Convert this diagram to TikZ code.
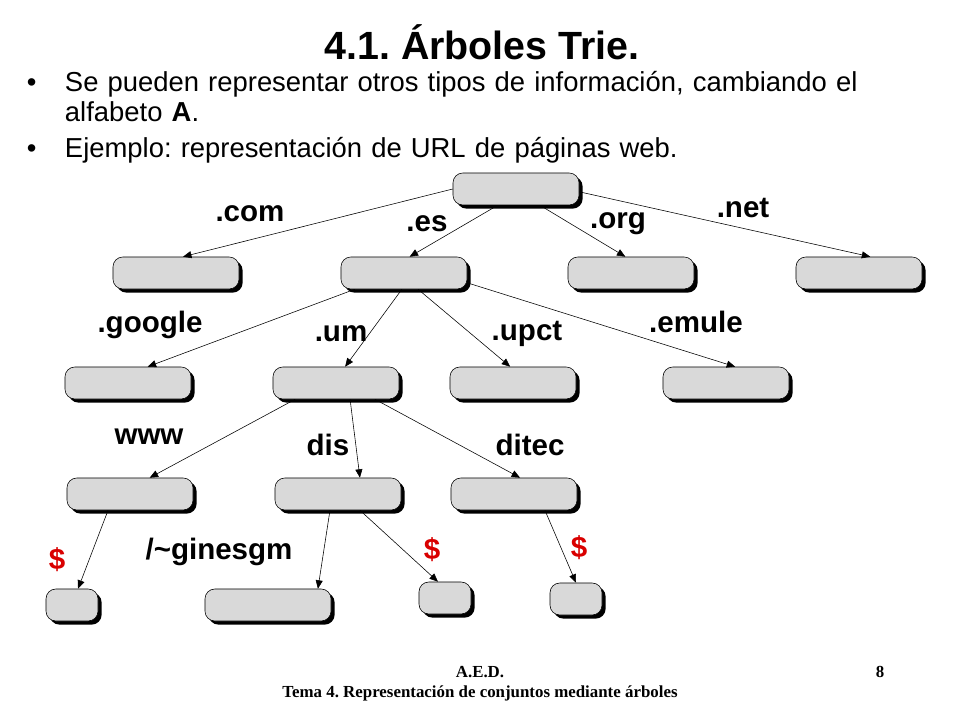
\documentclass[tikz,border=0pt]{standalone}
\usepackage{fontspec}
\setmainfont{Liberation Sans}
\newfontfamily\footfont{Liberation Serif}
\usetikzlibrary{arrows.meta,shadows}
\frenchspacing

\tikzset{
  box/.style={draw,rectangle,rounded corners=7pt,fill=gray!30,minimum width=3.15cm,minimum height=0.8cm,
    drop shadow={shadow xshift=0.09cm,shadow yshift=-0.09cm,fill=black,opacity=1}},
  sbox/.style={box,minimum width=1.3cm},
  lab/.style={font=\fontsize{21}{24}\selectfont\bfseries},
  dollar/.style={lab,text=red!85!black},
  link/.style={-{Triangle[length=6pt,width=5pt]}},
}

\begin{document}
\begin{tikzpicture}[x=0.025cm,y=-0.025cm]
    \useasboundingbox (0,0) rectangle (960,720);
    \node (title) at (482,42) {\fontsize{28}{30}\selectfont\bfseries 4.1. Árboles Trie.};
    \node[anchor=north west,text width=22.5cm,align=left,font=\fontsize{19.5}{21.5}\selectfont] (items) at (22,66)
      {\makebox[0.95cm][l]{\textbullet}Se pueden representar otros tipos de información, cambiando el\\
       \hspace*{0.95cm}alfabeto \textbf{A}.\\[4pt]
       \makebox[0.95cm][l]{\textbullet}Ejemplo: representación de URL de páginas web.};

    % arbol
    \node[box] (root) at (516,189) {};
    \node[box] (com) at (176,273) {};
    \node[box] (es) at (404,273) {};
    \node[box] (org) at (631,273) {};
    \node[box] (net) at (859,273) {};
    \node[box] (google) at (128,383) {};
    \node[box] (um) at (336,383) {};
    \node[box] (upct) at (513,383) {};
    \node[box] (emule) at (726,383) {};
    \node[box] (www) at (130,494) {};
    \node[box] (dis) at (338,494) {};
    \node[box] (ditec) at (514,494) {};
    \node[sbox] (end1) at (72,605) {};
    \node[box] (gines) at (268,605) {};
    \node[sbox] (end2) at (445,598) {};
    \node[sbox] (end3) at (576,599) {};

    \draw[link] (root.west) -- ([xshift=5pt]com.north);
    \draw[link] ([xshift=-13pt]root.south) -- ([xshift=4pt]es.north);
    \draw[link] ([xshift=17pt]root.south) -- ([xshift=-4pt]org.north);
    \draw[link] ([yshift=-2pt]root.east) -- ([xshift=8pt]net.north);
    \draw[link] ([xshift=-35pt]es.south) -- ([xshift=14pt]google.north);
    \draw[link] ([xshift=-1.5pt]es.south) -- ([xshift=6.5pt]um.north);
    \draw[link] ([xshift=10pt]es.south) -- ([xshift=-2pt]upct.north);
    \draw[link] ([yshift=-7pt]es.east) -- ([xshift=6.5pt]emule.north);
    \draw[link] ([xshift=-29pt]um.south) -- ([xshift=14pt]www.north);
    \draw[link] ([xshift=10pt]um.south) -- ([xshift=15.6pt]dis.north);
    \draw[link] ([xshift=27.7pt]um.south) -- ([xshift=4.3pt]ditec.north);
    \draw[link] ([xshift=-15.6pt]www.south) -- ([xshift=4.3pt]end1.north);
    \draw[link] ([xshift=-5.7pt]dis.south) -- ([xshift=35.5pt]gines.north);
    \draw[link] ([xshift=15.6pt]dis.south) -- ([xshift=-5pt]end2.north);
    \draw[link] ([xshift=22pt]ditec.south) -- (end3.north);

    \node[lab] (lcom) at (250,214) {.com};
    \node[lab] (les) at (427,224) {.es};
    \node[lab] (lorg) at (618,224) {.org};
    \node[lab] (lnet) at (743,208) {.net};
    \node[lab] (lgoogle) at (150,325) {.google};
    \node[lab] (lum) at (341,334) {.um};
    \node[lab] (lupct) at (527,334) {.upct};
    \node[lab] (lemule) at (696,322) {.emule};
    \node[lab] (lwww) at (149,437) {www};
    \node[lab] (ldis) at (328,445) {dis};
    \node[lab] (lditec) at (530,445) {ditec};
    \node[dollar] (d1) at (57,560) {\$};
    \node[lab] (lgines) at (219,552) {/\string~ginesgm};
    \node[dollar] (d2) at (432,550) {\$};
    \node[dollar] (d3) at (579,548) {\$};

    \node (aed) at (480,672) {\footfont\fontsize{12}{14}\selectfont\bfseries A.E.D.};
    \node (page) at (880,672) {\footfont\fontsize{12}{14}\selectfont\bfseries 8};
    \node (tema) at (480,693) {\footfont\fontsize{12}{14}\selectfont\bfseries Tema 4. Representación de conjuntos mediante árboles};
\end{tikzpicture}
\end{document}
